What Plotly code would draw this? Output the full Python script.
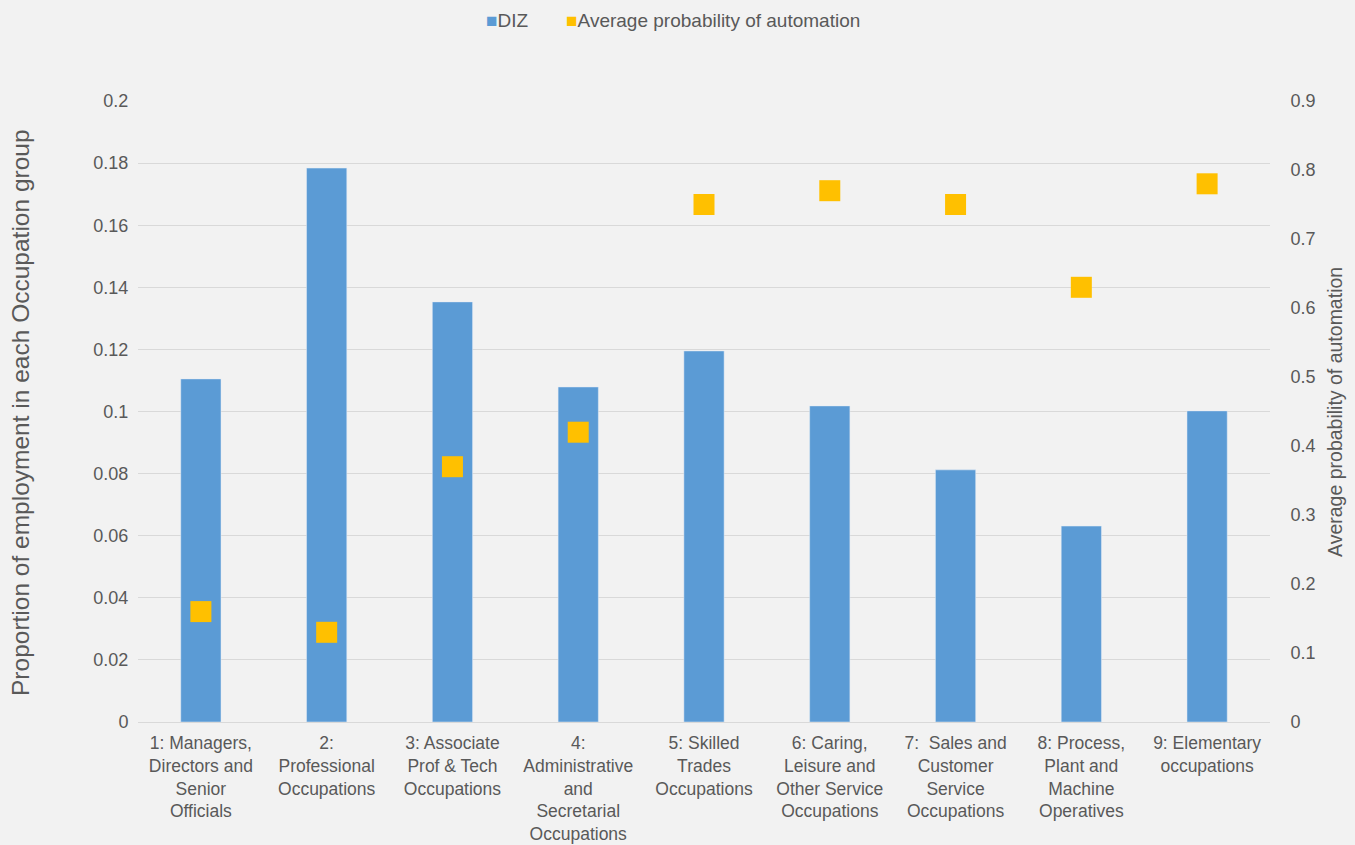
import plotly.graph_objects as go

categories = [
    "1: Managers,<br>Directors and<br>Senior<br>Officials",
    "2:<br>Professional<br>Occupations",
    "3: Associate<br>Prof & Tech<br>Occupations",
    "4:<br>Administrative<br>and<br>Secretarial<br>Occupations",
    "5: Skilled<br>Trades<br>Occupations",
    "6: Caring,<br>Leisure and<br>Other Service<br>Occupations",
    "7:  Sales and<br>Customer<br>Service<br>Occupations",
    "8: Process,<br>Plant and<br>Machine<br>Operatives",
    "9: Elementary<br>occupations",
]
diz = [0.1105, 0.1784, 0.1353, 0.1079, 0.1195, 0.1018, 0.0812, 0.0631, 0.1002]
automation = [0.16, 0.13, 0.37, 0.42, 0.75, 0.77, 0.75, 0.63, 0.78]

left_ticks = [0, 0.02, 0.04, 0.06, 0.08, 0.1, 0.12, 0.14, 0.16, 0.18, 0.2]
left_ticktext = ["0", "0.02", "0.04", "0.06", "0.08", "0.1", "0.12", "0.14", "0.16", "0.18", "0.2"]
right_ticks = [0, 0.1, 0.2, 0.3, 0.4, 0.5, 0.6, 0.7, 0.8, 0.9]
right_ticktext = ["0", "0.1", "0.2", "0.3", "0.4", "0.5", "0.6", "0.7", "0.8", "0.9"]

series_names = ["DIZ", "Average probability of automation"]
bar_color = "#5B9BD5"
marker_color = "#FFC000"
txt = "#595959"
font = "Arial"

L, R, T, B = 138, 85, 101, 123
W, H = 1355, 845
pw = W - L - R
ph = H - T - B

fig = go.Figure()
fig.add_trace(go.Bar(
    x=categories, y=diz, name=series_names[0], marker_color=bar_color,
    width=0.32, yaxis="y",
))
fig.add_trace(go.Scatter(
    x=categories, y=automation, name=series_names[1],
    mode="markers", marker=dict(symbol="square", size=21, color=marker_color),
    yaxis="y2",
))

legend_text = (
    f"<span style='color:{bar_color}'>■</span>{series_names[0]}"
    f"\u2003\u2003<span style='color:{marker_color}'>■</span>{series_names[1]}"
)

fig.update_layout(
    width=W, height=H,
    paper_bgcolor="#F2F2F2", plot_bgcolor="#F2F2F2",
    margin=dict(l=L, r=R, t=T, b=B, autoexpand=False),
    font=dict(family=font, color=txt, size=18),
    showlegend=False,
    xaxis=dict(
        automargin=False, range=[-0.5, 8.5],
        showgrid=False, showline=True, linecolor="#D9D9D9", linewidth=1,
        tickfont=dict(size=17.5, color=txt), ticks="outside", ticklen=0,
        ticklabelstandoff=5,
    ),
    yaxis=dict(
        automargin=False,
        range=[0, 0.2], tickvals=left_ticks, ticktext=left_ticktext,
        showgrid=True, gridcolor="#D9D9D9", gridwidth=1, zeroline=False,
        tickfont=dict(size=18, color=txt), ticks="outside", ticklen=0,
        ticklabelstandoff=5,
    ),
    yaxis2=dict(
        automargin=False,
        range=[0, 0.9], tickvals=right_ticks, ticktext=right_ticktext,
        overlaying="y", side="right", showgrid=False, zeroline=False,
        tickfont=dict(size=18, color=txt), ticks="outside", ticklen=0,
        ticklabelstandoff=16,
    ),
    annotations=[
        dict(
            text="Proportion of employment in each Occupation group", textangle=-90,
            xref="paper", yref="paper", x=(20 - L) / pw, y=(722 - 413) / ph,
            xanchor="center", yanchor="middle",
            showarrow=False, font=dict(size=24.5, color=txt),
        ),
        dict(
            text="Average probability of automation", textangle=-90,
            xref="paper", yref="paper", x=(1335 - L) / pw, y=(722 - 412) / ph,
            xanchor="center", yanchor="middle",
            showarrow=False, font=dict(size=19.5, color=txt),
        ),
        dict(
            text=legend_text,
            xref="paper", yref="paper", x=(673 - L) / pw, y=(722 - 20) / ph,
            xanchor="center", yanchor="middle",
            showarrow=False, font=dict(size=19, color=txt),
        ),
    ],
)

fig.write_html("out.html")
